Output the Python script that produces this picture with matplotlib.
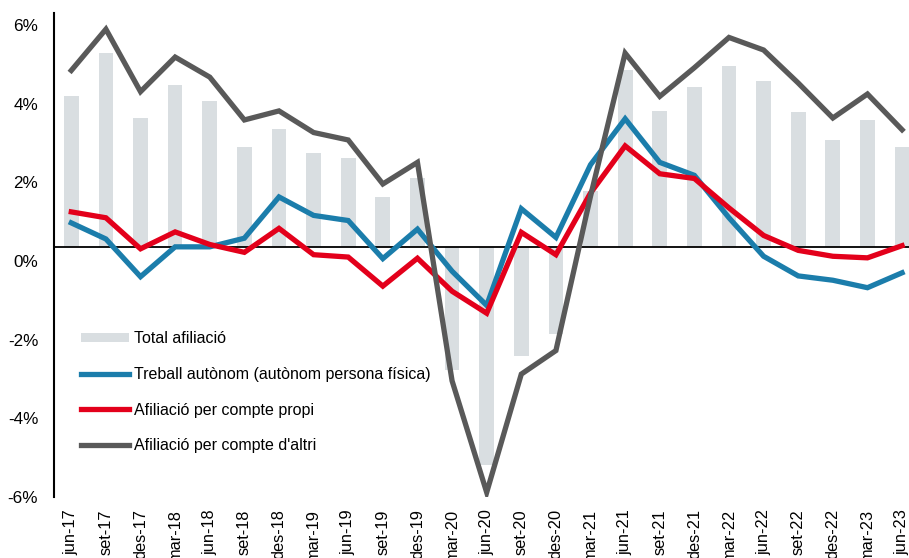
import matplotlib
matplotlib.use("Agg")
import matplotlib.pyplot as plt
from matplotlib.patches import Patch
from matplotlib.lines import Line2D
import numpy as np

cats = ['jun-17', 'set-17', 'des-17', 'mar-18', 'jun-18', 'set-18', 'des-18',
        'mar-19', 'jun-19', 'set-19', 'des-19', 'mar-20', 'jun-20', 'set-20',
        'des-20', 'mar-21', 'jun-21', 'set-21', 'des-21', 'mar-22', 'jun-22',
        'set-22', 'des-22', 'mar-23', 'jun-23']

total = [4.20, 5.29, 3.64, 4.48, 4.07, 2.90, 3.37, 2.76, 2.61, 1.64, 2.10,
         -2.77, -5.19, -2.42, -1.87, 1.77, 4.86, 3.83, 4.44, 4.96, 4.58,
         3.78, 3.09, 3.59, 2.90]
autonom = [0.97, 0.56, -0.40, 0.36, 0.36, 0.58, 1.63, 1.16, 1.03, 0.06, 0.81,
           -0.26, -1.13, 1.33, 0.60, 2.45, 3.62, 2.51, 2.18, 1.10, 0.12,
           -0.38, -0.49, -0.68, -0.30]
propi = [1.25, 1.10, 0.31, 0.74, 0.42, 0.22, 0.83, 0.16, 0.10, -0.64, 0.07,
         -0.77, -1.33, 0.73, 0.16, 1.73, 2.93, 2.22, 2.10, 1.35, 0.65,
         0.27, 0.12, 0.08, 0.39]
altri = [4.85, 5.90, 4.31, 5.19, 4.68, 3.59, 3.82, 3.27, 3.08, 1.96, 2.51,
         -3.05, -5.89, -2.88, -2.28, 1.65, 5.29, 4.19, 4.92, 5.69, 5.37,
         4.53, 3.64, 4.25, 3.34]

ytick_vals = [-6, -4, -2, 0, 2, 4, 6]
ytick_labels = ['-6%', '-4%', '-2%', '0%', '2%', '4%', '6%']

labels = ['Total afiliació', 'Treball autònom (autònom persona física)',
          'Afiliació per compte propi', "Afiliació per compte d'altri"]

axis_cross = 0.36  # horizontal axis crossing value

c_bar = '#d9dee1'
c_blue = '#1b7dab'
c_red = '#e3001b'
c_gray = '#595959'

plt.rcParams['font.family'] = ['Liberation Sans', 'DejaVu Sans']

W, H = 909, 558
fig = plt.figure(figsize=(W / 100, H / 100), dpi=100)
left, right, top, bottom = 53.5, 909, 12.7, 496.7
ax = fig.add_axes([left / W, 1 - bottom / H, (right - left) / W, (bottom - top) / H])

x = np.arange(len(cats))
tot = np.array(total)
ax.bar(x, tot - axis_cross, bottom=axis_cross, width=0.425, color=c_bar, zorder=1)
ax.axhline(axis_cross, color='black', lw=1.3, zorder=2)
ax.plot(x, autonom, color=c_blue, lw=3.8, zorder=3, solid_joinstyle='miter')
ax.plot(x, propi, color=c_red, lw=3.8, zorder=4, solid_joinstyle='miter')
ax.plot(x, altri, color=c_gray, lw=3.8, zorder=5, solid_joinstyle='miter')

ax.set_xlim(-0.514, 24.2)
ax.set_ylim(-6.0, 6.32)
ax.set_yticks(ytick_vals)
ax.set_yticklabels(ytick_labels)
ax.set_xticks(x)
ax.set_xticklabels(cats, rotation=90, va='top', ha='center')
ax.tick_params(axis='y', length=0, pad=11, labelsize=12.3)
ax.tick_params(axis='x', length=0, pad=9, labelsize=11.8)
for s in ['top', 'right', 'bottom']:
    ax.spines[s].set_visible(False)
ax.spines['left'].set_linewidth(1.5)

handles = [Patch(facecolor=c_bar, edgecolor='none'),
           Line2D([], [], color=c_blue, lw=3.8),
           Line2D([], [], color=c_red, lw=3.8),
           Line2D([], [], color=c_gray, lw=3.8)]
leg = ax.legend(handles, labels, loc='upper left',
                bbox_to_anchor=(81 / W, 1 - 331 / H), bbox_transform=fig.transFigure,
                frameon=False, fontsize=11.5, handlelength=3.0, handleheight=0.5,
                handletextpad=0.3, labelspacing=1.3, borderpad=0, borderaxespad=0)

fig.savefig('out.png', dpi=100)
